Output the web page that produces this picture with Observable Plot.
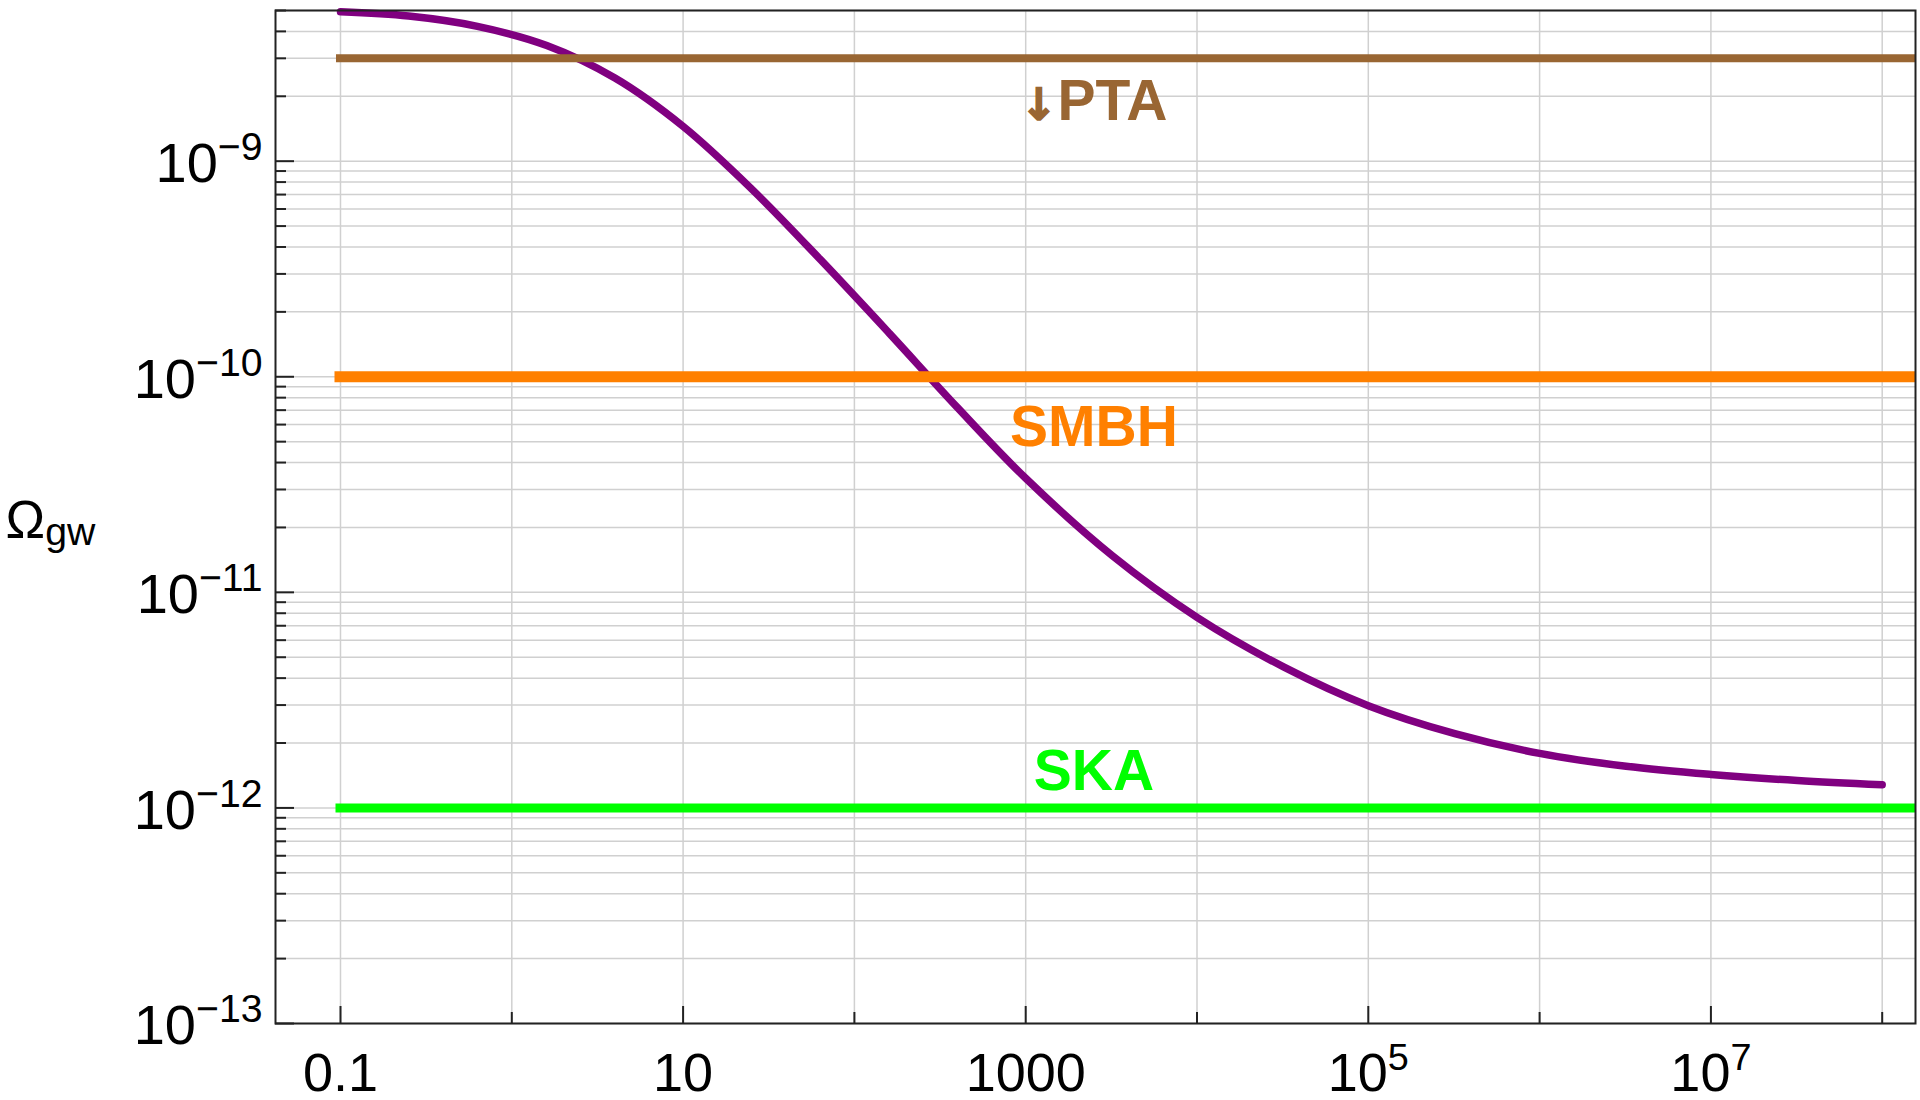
<!DOCTYPE html>
<html>
<head>
<meta charset="utf-8">
<script src="https://cdn.jsdelivr.net/npm/d3@7"></script>
<script src="https://cdn.jsdelivr.net/npm/@observablehq/plot@0.6"></script>
<style>
  html, body { margin: 0; padding: 0; background: #fff; }
  #chart svg { display: block; }
</style>
</head>
<body>
<div id="chart"></div>
<script>
// Gravitational-wave energy density spectrum Ω_gw versus frequency,
// with the PTA, SMBH and SKA sensitivity levels as horizontal lines.

// Spectrum (frequency, Ω_gw)
const freq  = [0.1, 0.25, 0.63, 1.6, 4, 10, 25, 63, 160, 400, 1000,
               3200, 1e4, 3.2e4, 1e5, 3.2e5, 1e6, 3.2e6, 1e7, 3.2e7, 1e8];
const omega = [4.93e-9, 4.71e-9, 4.22e-9, 3.44e-9, 2.43e-9, 1.45e-9, 7.46e-10,
               3.51e-10, 1.59e-10, 7.19e-11, 3.38e-11, 1.48e-11, 7.66e-12, 4.51e-12,
               2.98e-12, 2.21e-12, 1.79e-12, 1.56e-12, 1.43e-12, 1.34e-12, 1.28e-12];

// Sensitivity levels
const levelNames  = ["↓PTA", "SMBH", "SKA"];
const levelValues = [3e-9, 1e-10, 1e-12];
const levelColors = ["#996633", "#ff8000", "#00ff00"];
const levelWidths = [8, 11, 9];
const levelStart  = 0.1;
// label anchor points
const labelX = [2500, 2500, 2500];
const labelY = [1.89e-9, 5.78e-11, 1.47e-12];

// Axes
const xDomain = [0.04174, 1.5645e8];
const yDomain = [1e-13, 5e-9];
const xMajorTicks  = [0.1, 10, 1000, 1e5, 1e7];
const xTickLabels  = ["0.1", "10", "1000", "10^5", "10^7"];
const xMinorTicks  = [1, 100, 1e4, 1e6, 1e8];
const yMajorTicks  = [1e-13, 1e-12, 1e-11, 1e-10, 1e-9];
const yTickLabels  = ["10^−13", "10^−12", "10^−11", "10^−10", "10^−9"];
const yMinorTicks  = d3.range(-13, -8).flatMap(k => d3.range(2, 10).map(m => m * 10 ** k))
                       .filter(v => v <= yDomain[1] * 1.0001);
const xGrid = xMajorTicks.concat(xMinorTicks);
const yGrid = yMajorTicks.concat(yMinorTicks);
const yTitle = "Ω_gw";

const W = 1920, H = 1100;
const M = {top: 10, right: 5, bottom: 77, left: 275};
const plotW = W - M.left - M.right;
const plotH = H - M.top - M.bottom;

const spectrum = freq.map((f, i) => ({f, omega: omega[i]}));
const labelFor = (ticks, labels) => d => labels[ticks.findIndex(t => Math.abs(t - d) / t < 1e-6)];

const gridStyle = {stroke: "#d0d0d0", strokeOpacity: 1, strokeWidth: 1.5};
const tickStyle = {stroke: "#222", strokeWidth: 2};

const marks = [
  Plot.gridX(xGrid, gridStyle),
  Plot.gridY(yGrid, gridStyle),
  Plot.line(spectrum, {x: "f", y: "omega", stroke: "#800080", strokeWidth: 7.5,
                       curve: "catmull-rom", strokeLinecap: "round"})
];
levelValues.forEach((v, i) => {
  marks.push(Plot.ruleY([v], {y: d => d, x1: levelStart, x2: xDomain[1],
    stroke: levelColors[i], strokeWidth: levelWidths[i], strokeLinecap: "square", clip: true}));
});
levelNames.forEach((name, i) => {
  marks.push(Plot.text([name], {x: labelX[i], y: labelY[i], text: d => d,
    fill: levelColors[i], fontSize: 57, fontWeight: "bold"}));
});
marks.push(
  Plot.tickY(yMajorTicks, {y: d => d, ...tickStyle, insetRight: plotW - 19}),
  Plot.tickY(yMinorTicks, {y: d => d, ...tickStyle, insetRight: plotW - 11}),
  Plot.tickX(xMajorTicks, {x: d => d, ...tickStyle, insetTop: plotH - 17}),
  Plot.tickX(xMinorTicks, {x: d => d, ...tickStyle, insetTop: plotH - 11}),
  Plot.frame({stroke: "#222", strokeWidth: 2}),
  Plot.axisY(yMajorTicks, {tickSize: 0, tickPadding: 13, dy: 3, fontSize: 56,
    tickFormat: labelFor(yMajorTicks, yTickLabels), label: null}),
  Plot.axisX(xMajorTicks, {tickSize: 0, tickPadding: 29, fontSize: 54,
    tickFormat: labelFor(xMajorTicks, xTickLabels), label: null}),
  Plot.text([yTitle], {frameAnchor: "left", text: d => d, textAnchor: "start",
    dx: -270, dy: 4, fontSize: 53})
);

const chart = Plot.plot({
  width: W, height: H,
  marginTop: M.top, marginRight: M.right, marginBottom: M.bottom, marginLeft: M.left,
  style: {fontFamily: "'Liberation Sans', Arial, Helvetica, sans-serif",
          background: "#fff", color: "#000", overflow: "visible"},
  x: {type: "log", domain: xDomain},
  y: {type: "log", domain: yDomain},
  marks
});

// Typeset "a^b" as a superscript, "a_b" as a subscript, and give the arrow a heavier glyph.
d3.select(chart).selectAll("text").each(function() {
  const t = this.textContent;
  const el = d3.select(this);
  if (t.startsWith("↓")) {
    const fill = el.attr("fill") || d3.select(this.parentNode).attr("fill");
    el.text(null);
    el.append("tspan")
      .attr("font-family", "'DejaVu Sans', sans-serif")
      .attr("font-size", "0.78em")
      .attr("stroke", fill).attr("stroke-width", 1.5)
      .text("↓");
    el.append("tspan").text(t.slice(1));
    return;
  }
  const sup = /^(.*)\^(.+)$/.exec(t);
  const sub = /^(.*)_(.+)$/.exec(t);
  const m = sup || sub;
  if (!m) return;
  el.text(null);
  el.append("tspan").text(m[1]);
  el.append("tspan")
    .attr("font-size", sup ? "0.7em" : "0.74em")
    .attr("dy", sup ? "-0.56em" : "0.17em")
    .text(m[2]);
});

document.getElementById("chart").appendChild(chart);
</script>
</body>
</html>
